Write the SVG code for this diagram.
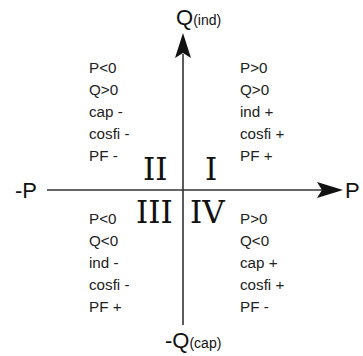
<svg xmlns="http://www.w3.org/2000/svg" width="363" height="356" viewBox="0 0 363 356">
<style>
.ax{stroke:#333;stroke-width:1.6;fill:none}
.ah{fill:#111;stroke:none}
.t{font-family:"Liberation Sans",Arial,sans-serif;font-size:15.2px;fill:#222}
.big{font-family:"Liberation Sans",Arial,sans-serif;font-size:22px;fill:#111}
.sub{font-family:"Liberation Sans",Arial,sans-serif;font-size:14px;fill:#111}
.rn{font-family:"DejaVu Serif",serif;font-size:31px;fill:#111}
</style>
<rect width="363" height="356" fill="#fff"/>
<g id="connectors">
<line class="ax" x1="183" y1="54" x2="183" y2="325"/>
<polygon class="ah" points="183,33 191,58 183,53 175,58"/>
<line class="ax" x1="47" y1="190" x2="322" y2="190"/>
<polygon class="ah" points="343,190 317,182 322,190 317,198"/>
</g>
<g id="axis-labels">
<text x="176" y="25"><tspan class="big">Q</tspan><tspan class="sub">(ind)</tspan></text>
<text class="big" x="15" y="198">-P</text>
<text class="big" x="345" y="198">P</text>
<text x="165" y="348"><tspan class="big">-Q</tspan><tspan class="sub">(cap)</tspan></text>
</g>
<g id="quadrant-I">
<text class="rn" x="205" y="180">I</text>
<text class="t" x="240" y="73">P&gt;0</text>
<text class="t" x="240" y="95">Q&gt;0</text>
<text class="t" x="240" y="117">ind +</text>
<text class="t" x="240" y="139">cosfi +</text>
<text class="t" x="240" y="161">PF +</text>
</g>
<g id="quadrant-II">
<text class="rn" x="143" y="180">II</text>
<text class="t" x="89" y="73">P&lt;0</text>
<text class="t" x="89" y="95">Q&gt;0</text>
<text class="t" x="89" y="117">cap -</text>
<text class="t" x="89" y="139">cosfi -</text>
<text class="t" x="89" y="161">PF -</text>
</g>
<g id="quadrant-III">
<text class="rn" x="136" y="223">III</text>
<text class="t" x="89" y="224">P&lt;0</text>
<text class="t" x="89" y="246">Q&lt;0</text>
<text class="t" x="89" y="268">ind -</text>
<text class="t" x="89" y="290">cosfi -</text>
<text class="t" x="89" y="312">PF +</text>
</g>
<g id="quadrant-IV">
<text class="rn" x="190" y="223">IV</text>
<text class="t" x="240" y="224">P&gt;0</text>
<text class="t" x="240" y="246">Q&lt;0</text>
<text class="t" x="240" y="268">cap +</text>
<text class="t" x="240" y="290">cosfi +</text>
<text class="t" x="240" y="312">PF -</text>
</g>
</svg>
